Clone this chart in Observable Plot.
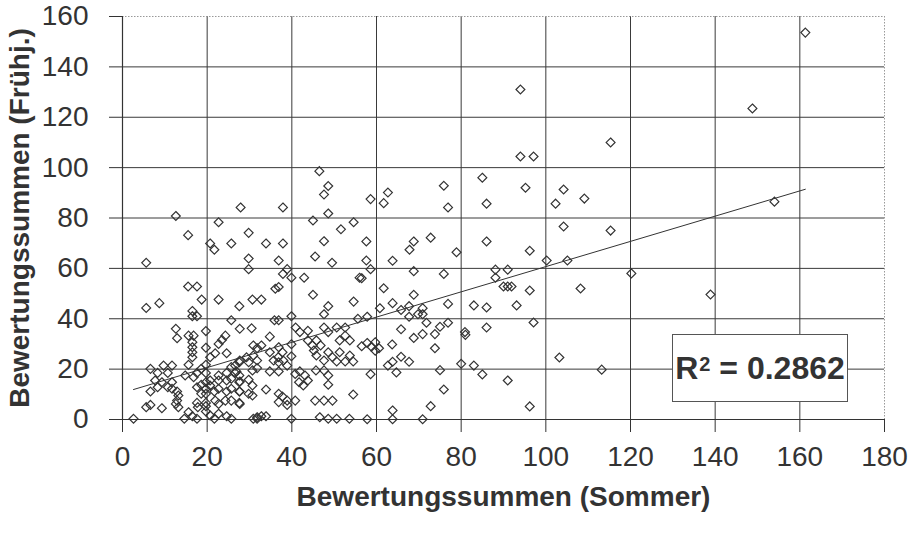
<!DOCTYPE html>
<html>
<head>
<meta charset="utf-8">
<script src="https://cdn.jsdelivr.net/npm/d3@7"></script>
<script src="https://cdn.jsdelivr.net/npm/@observablehq/plot@0.6"></script>
<style>
  html, body { margin: 0; padding: 0; background: #fff; }
  #wrap { position: relative; width: 921px; height: 535px; font-family: "Liberation Sans", Arial, sans-serif; }
  #r2 { position: absolute; left: 672px; top: 334px; width: 176px; height: 68px; box-sizing: border-box;
        border: 1px solid #555; background: #fff; color: #333; font-weight: bold; font-size: 32px;
        display: flex; align-items: center; justify-content: center; white-space: nowrap; }
  #r2 sup { font-size: 20px; position: relative; top: -4px; margin-left: 1px; }
</style>
</head>
<body>
<div id="wrap"></div>
<script>
// Axis titles and tick values
const xTitle = "Bewertungssummen (Sommer)";
const yTitle = "Bewertungssummen (Frühj.)";
const xTicks = [0, 20, 40, 60, 80, 100, 120, 140, 160, 180];
const yTicks = [0, 20, 40, 60, 80, 100, 120, 140, 160];
const r2Label = "0.2862";
// linear trend (as drawn in the reference)
const trendSlope = 0.501;
const trendIntercept = 10.6;

// Sommer (x) values
const sommer = [
161.3,148.8,94,94,97.1,115.3,85,95.2,86,104.2,102.3,109.1,154,104.2,115.3,86,96.2,100.2,105.1,88.1,91,88.1,90,91,91.9,96.2,120.2,108.2,138.9,83,86,93.1,86,97.1,83,85,91,103.2,113.2,96.2,
61.7,68.8,63.8,76.9,60.8,65.8,67.7,70.9,69.8,70.9,67.7,55.6,57.8,71.8,76.9,75,65.8,73.8,70.9,68.8,80.9,81,63.7,56.5,57.8,58.8,59.7,59.7,60.6,73.8,65.8,63.8,67.7,62.7,58.6,64.7,75,80,75.9,72.8,63.8,57.8,63.8,70.9,
75.9,62.7,58.6,61.7,76.9,72.8,68.8,67.8,57.6,78.9,57.6,58.6,63.8,68.8,75.9,56.5,
46.5,48.6,47.6,27.9,37.9,48.6,45,54.6,51.6,29.8,33.9,37.9,47.6,29.8,36.9,45.5,49.5,29.8,38.9,37.9,39.9,42.9,36.9,36.1,56,
12.6,22.7,15.5,20.7,25.7,21.7,5.6,15.5,17.6,
5.6,8.7,18.7,22.7,27.6,16.5,17.6,16.5,25.7,12.6,19.7,15.6,16.8,12.9,24.3,23.5,16.5,16.5,16.5,16.5,22.7,19.7,24.6,21.9,20.7,15.6,6.6,9.7,11.7,8.3,10.7,7.7,9.3,11.7,8.3,10.7,6.6,14.8,17.6,19.7,18.6,19.7,16.8,20.7,22.7,24.6,22.7,24.6,26.6,26.6,27.6,25.7,18.6,20.7,11.7,12.9,13.2,12.9,12.6,13.2,18.6,17.6,19.7,5.6,6.6,9.3,2.6,15.6,14.6,17.6,16.5,19.7,20.7,21.7,22.7,24.6,25.7,17.8,19.7,21.9,22.7,24.3,25.7,27.6,19.7,21.7,22.7,24.6,25.7,27.6,25.7,27.6,27.6,19.7,17.6,19.7,
45,54.6,30.7,32.8,48.6,47.6,39.9,35.9,36.9,27.7,30.5,40.9,41.9,43.8,47.6,48.6,50.6,52.6,52.6,51.3,53.7,34.8,30.9,32.8,31.8,39.9,45.8,44.9,46.8,45.2,45.8,48.6,47.6,49.6,50.6,52.6,54.5,53.7,51.3,34.8,36.8,38,38.9,36.9,35.7,39.9,30.9,31.8,29.8,27.7,29.3,26.9,30.7,31.8,34.8,36.9,40.8,41.9,43.1,43.8,42.7,41.7,45.7,47.6,48.6,48.6,54.5,27.7,29.8,30.7,27.7,29.8,30.7,27.7,33.9,36.9,37.8,36.9,38.9,40.8,38.9,45.5,47.6,49.6,30.9,31.8,32.8,33.9,31.8,39.9,46.6,48.6,50.6,53.6,43.8,36.9,37.8
];
// Frühjahr (y) values
const fruehjahr = [
153.6,123.5,131,104.4,104.4,110,96,92,85.7,91.3,85.7,87.7,86.5,76.6,75,70.7,67,63.1,63.1,59.5,59.5,56.3,52.8,52.8,52.8,51.2,58,52,49.6,45.3,44.5,45.3,36.5,38.5,21.4,17.9,15.5,24.6,19.8,5.2,
52.1,49.5,46.2,45.9,44.2,43.5,45,44.2,41.8,41.8,40.8,40,40.8,38.4,38.4,36.8,35.8,33.9,33.9,32.4,34.7,33.6,29.8,29.1,30.4,28.9,30.7,27.3,28.3,28.3,24.9,22.9,22.9,21.4,18,18.7,19.6,22.1,11.9,5.3,3.6,0.1,0.1,0.1,
92.8,90.1,87.5,85.9,84.2,72.2,70.7,67.4,70.7,66.4,63.1,59.7,63,58.9,57.8,56.1,
98.6,92.7,89.3,84.2,84.2,81.8,79,78.3,75.5,74.1,69.9,69.9,70.8,63.9,63.1,64.7,62.2,59.7,59.7,57.8,56.3,56.3,52.6,51.9,56.3,
80.8,78.3,73.2,69.9,69.9,67.4,62.2,52.8,52.8,
44.3,46.2,47.6,47.6,45,43.1,41,41,39.4,36,35.1,33.3,33.3,32.3,33.3,31.6,30.7,28.7,26.7,24.7,30,28.5,26.3,26.3,24.7,21.7,20.1,21.4,21.4,18.5,18.5,15.5,14.8,14.8,12.8,12.8,11.1,17.5,18.5,18.5,20.1,21.7,16.8,15.5,15.5,15.5,17.5,18.5,18.5,21.4,22.7,20.8,13.8,13.5,12.2,11.1,9.5,7.5,6.2,4.9,10.2,6.6,6.6,4.9,5.8,4.5,0.3,2.9,0.3,0.3,1.3,3.2,1.6,0.3,2.3,1.3,0.3,4.9,5.3,7.5,6.2,7.5,7.5,6.6,10.2,11.1,12.2,11.1,12.2,11.1,16.2,14.8,17.5,14.8,12.8,12.2,
49.5,46.8,47.6,47.6,45,41.8,41,39.4,39.4,36,36.2,36.5,34.7,35.2,36.5,34.7,36.5,36.5,33.3,31.4,31.4,32.9,29.4,29.4,28.3,29.9,31.4,29.4,29.4,27.4,25.4,26.7,23.4,24.7,23,23,23,25.4,26.7,26.7,24.7,23.4,21.4,22.7,23.4,25.1,25.4,23.4,22.7,23.4,24.7,19.1,19.5,20.4,19.1,19.1,18.1,19.1,17.5,15.5,13.5,14.8,19.5,19.5,17.5,13.8,9.9,15.1,15.8,13.5,11.1,10.2,9.5,6.2,11.9,10.2,9.1,6.9,7.5,7.5,5.8,7.5,7.5,7.5,0.3,0.9,1.3,1.3,0.3,0.3,0.9,0.3,0.3,0.3,31.4,28.7,26.7
];

const points = sommer.map((x, i) => ({x, y: fruehjahr[i]}));
const [xMin, xMax] = d3.extent(sommer);
const trend = [xMin, xMax].map(x => ({x, y: trendIntercept + trendSlope * x}));

const ink = "#333";
const chart = Plot.plot({
  width: 921,
  height: 535,
  marginLeft: 122,
  marginRight: 37,
  marginTop: 16,
  marginBottom: 116,
  style: { fontFamily: '"Liberation Sans", Arial, sans-serif', color: ink, background: "#fff", overflow: "visible" },
  x: { domain: [0, 180] },
  y: { domain: [0, 160] },
  marks: [
    Plot.gridX(xTicks.filter(d => d > 0 && d < 180), { stroke: "#3a3a3a", strokeOpacity: 1, strokeWidth: 1 }),
    Plot.gridY(yTicks.filter(d => d > 0 && d < 160), { stroke: "#3a3a3a", strokeOpacity: 1, strokeWidth: 1 }),
    Plot.ruleX([180], { stroke: "#999", strokeDasharray: "1.5,1.5" }),
    Plot.ruleY([160], { stroke: "#999", strokeDasharray: "1.5,1.5" }),
    Plot.ruleX([0], { stroke: ink, strokeWidth: 1.2 }),
    Plot.ruleY([0], { stroke: ink, strokeWidth: 1.2 }),
    Plot.axisX(xTicks, { tickSize: 13, tickPadding: 14, fontSize: 28, stroke: ink, fill: ink, label: null }),
    Plot.axisY(yTicks, { tickSize: 13, tickPadding: 21, fontSize: 28, stroke: ink, fill: ink, label: null }),
    Plot.line(trend, { x: "x", y: "y", stroke: ink, strokeWidth: 1 }),
    Plot.dot(points, { x: "x", y: "y", symbol: "diamond2", r: 4, stroke: ink, strokeWidth: 1.2, fill: "none" }),
    Plot.text([xTitle], { frameAnchor: "bottom", dy: 78, lineAnchor: "middle", textAnchor: "middle", fontSize: 28, fontWeight: "bold", fill: ink }),
    Plot.text([yTitle], { frameAnchor: "left", dx: -102, rotate: -90, lineAnchor: "middle", textAnchor: "middle", fontSize: 28, fontWeight: "bold", fill: ink })
  ]
});

const wrap = document.getElementById("wrap");
wrap.appendChild(chart);
const box = document.createElement("div");
box.id = "r2";
box.innerHTML = "R<sup>2</sup>&nbsp;=&nbsp;" + r2Label;
wrap.appendChild(box);
</script>
</body>
</html>
